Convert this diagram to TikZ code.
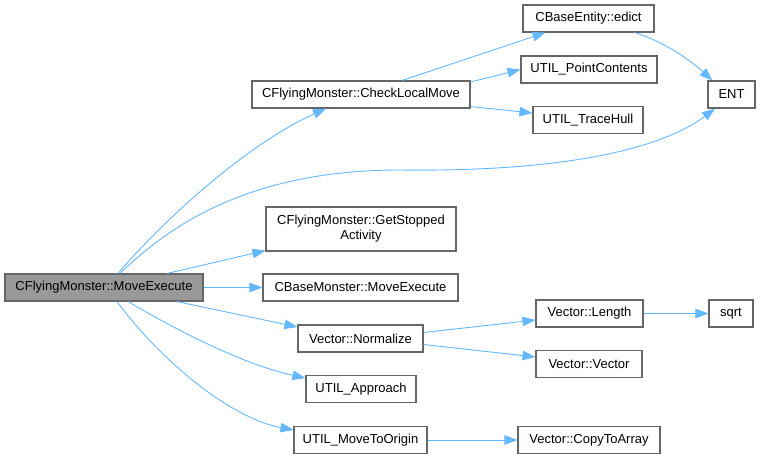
\documentclass[tikz,border=0pt]{standalone}
\usepackage{fontspec}
\setmainfont{Liberation Sans}
\usetikzlibrary{arrows.meta}
\definecolor{edgeblue}{HTML}{63B8FF}
\definecolor{boxgray}{HTML}{666666}
\definecolor{mainfill}{HTML}{999999}
\begin{document}
\begin{tikzpicture}[x=1pt,y=-1pt,
  fn/.style={draw=boxgray,line width=1.1pt,fill=white,rectangle,inner sep=0pt,
    minimum height=27pt,font=\fontsize{13}{15}\selectfont,align=center},
  mainfn/.style={fn,fill=mainfill},
  call/.style={draw=edgeblue,line width=0.9pt,-{Triangle[length=13pt,width=9.5pt,fill=edgeblue]}}]
\useasboundingbox (0,0) rectangle (760,459);
% nodes
\node[mainfn,minimum width=198pt] (main) at (104,287.5) {CFlyingMonster::MoveExecute};
\node[fn,minimum width=218pt] (clm) at (361,94.5) {CFlyingMonster::CheckLocalMove};
\node[fn,minimum width=131pt] (edict) at (588.5,18.5) {CBaseEntity::edict};
\node[fn,minimum width=136pt] (pc) at (589,69.5) {UTIL\_PointContents};
\node[fn,minimum width=110pt] (th) at (588,120) {UTIL\_TraceHull};
\node[fn,minimum width=47pt] (ent) at (731.5,94.5) {ENT};
\node[fn,minimum width=190pt,minimum height=44pt] (gsa) at (361,229) {CFlyingMonster::GetStopped\\Activity};
\node[fn,minimum width=195pt] (cbm) at (360.5,287.5) {CBaseMonster::MoveExecute};
\node[fn,minimum width=125pt] (norm) at (360.5,338.5) {Vector::Normalize};
\node[fn,minimum width=110pt] (appr) at (361,389) {UTIL\_Approach};
\node[fn,minimum width=133pt] (mto) at (360.5,440) {UTIL\_MoveToOrigin};
\node[fn,minimum width=107pt] (len) at (589.5,313.5) {Vector::Length};
\node[fn,minimum width=44pt] (sqrt) at (731,313.5) {sqrt};
\node[fn,minimum width=106pt] (vv) at (589,364) {Vector::Vector};
\node[fn,minimum width=142pt] (cta) at (589,440) {Vector::CopyToArray};
% edges
\draw[call] ([xshift=14pt]main.north) .. controls (162,222) and (245,145) .. ([xshift=-35pt]clm.south);
\draw[call] ([xshift=16pt]main.north) .. controls (170,225) and (250,170) .. (400,170)
   .. controls (560,172) and (660,150) .. ([xshift=-16.5pt]ent.south);
\draw[call] ([xshift=63pt]main.north) -- ([yshift=1pt]gsa.south west);
\draw[call] (main.east) -- (cbm.west);
\draw[call] ([xshift=73pt]main.south) -- ([yshift=11.5pt]norm.west);
\draw[call] ([xshift=24pt]main.south) .. controls (190,338) and (250,366) .. ([yshift=11pt]appr.west);
\draw[call] ([xshift=13pt]main.south) .. controls (160,360) and (230,418) .. ([yshift=10pt]mto.west);
\draw[call] ([xshift=41pt]clm.north) -- ([xshift=-43pt]edict.south);
\draw[call] ([yshift=-1.5pt]clm.north east) -- (pc.west);
\draw[call] ([yshift=2pt]clm.south east) -- ([yshift=7pt]th.west);
\draw[call] ([xshift=46pt]edict.south) .. controls (665,42) and (690,60) .. ([xshift=-19pt]ent.north);
\draw[call] ([yshift=6pt]norm.east) -- ([yshift=-6.5pt]len.west);
\draw[call] ([yshift=-6pt]norm.east) -- ([yshift=7pt]vv.west);
\draw[call] (len.east) -- (sqrt.west);
\draw[call] (mto.east) -- (cta.west);
\end{tikzpicture}
\end{document}
